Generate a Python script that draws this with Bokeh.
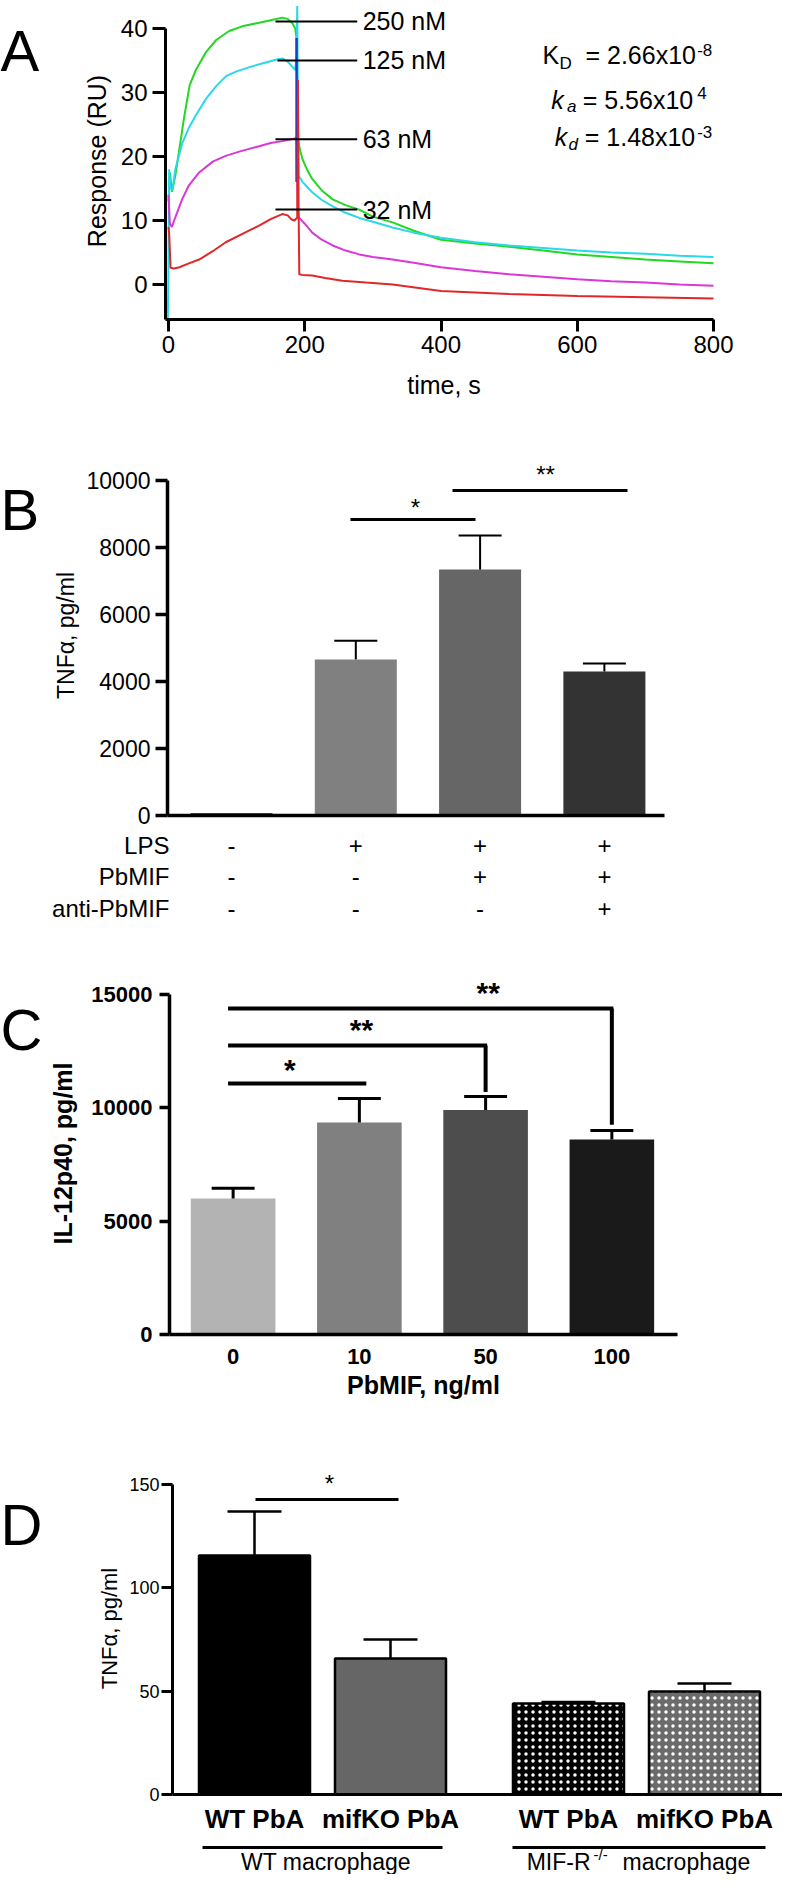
from bokeh.plotting import figure
from bokeh.layouts import column, row
from bokeh.models import Range1d, FixedTicker
from bokeh.core.properties import value
from bokeh.embed import file_html
from bokeh.resources import INLINE

FONT = "Liberation Sans"

# ---------------- Panel A data (SPR sensorgrams: time s, response RU) ----------------
t250 = [0, 2, 5, 10, 16, 22, 31, 40, 55, 70, 89, 110, 133, 150, 167, 175, 182, 186, 188, 189, 190, 193, 197, 204, 211, 225, 241, 260, 280, 300, 329, 360, 400, 450, 500, 550, 600, 650, 700, 750, 800]
r250 = [13, 17.5, 14.5, 17, 21.2, 25.5, 31.1, 33.5, 36.3, 38.2, 39.6, 40.4, 40.9, 41.3, 41.7, 41.5, 40.8, 40, 38.5, 30, 23, 21, 19.5, 17.8, 16.5, 14.7, 13.3, 12.4, 11.7, 10.6, 9.7, 8.4, 7.0, 6.4, 5.9, 5.3, 4.7, 4.3, 3.9, 3.6, 3.3]
t125 = [-1, 0, 1, 3, 6, 10, 20, 30, 40, 55, 70, 85, 100, 120, 140, 160, 168, 175, 182, 186, 188, 189, 190, 191, 197, 204, 211, 225, 241, 260, 280, 300, 329, 360, 400, 450, 500, 550, 600, 650, 700, 750, 800]
r125 = [-5.5, 3, 18, 15, 14.8, 18, 22, 24.5, 26.4, 29, 31, 32.6, 33.3, 34, 34.6, 35.2, 35.3, 34.8, 34, 33.5, 36, 43.5, 28, 17, 16, 15.2, 14.4, 13.2, 12.2, 11.2, 10.4, 9.8, 8.9, 8.1, 7.3, 6.6, 6.1, 5.7, 5.3, 5.0, 4.8, 4.5, 4.3]
t63 = [0, 2, 5, 10, 20, 30, 45, 65, 84, 105, 133, 150, 167, 180, 186, 188, 189, 190, 192, 200, 211, 225, 241, 260, 280, 300, 329, 360, 400, 450, 500, 550, 600, 650, 700, 750, 800]
r63 = [14, 9.5, 9, 10.5, 13.3, 15.5, 17.5, 19.2, 20.1, 20.8, 21.6, 22.1, 22.4, 22.7, 22.8, 23, 16, 10.8, 10.4, 9.5, 8.1, 7, 6.1, 5.3, 4.7, 4.3, 3.9, 3.4, 2.7, 2.1, 1.6, 1.2, 0.8, 0.5, 0.3, 0.0, -0.2]
t32 = [0, 1, 3, 8, 16, 30, 45, 65, 84, 110, 133, 150, 167, 175, 180, 185, 189, 190, 191, 192, 196, 211, 230, 255, 290, 329, 400, 500, 600, 700, 800]
r32 = [9, 8, 2.6, 2.5, 2.7, 3.3, 3.9, 5.2, 6.6, 8.0, 9.2, 10.2, 11.0, 10.8, 10.2, 10.0, 10.5, 32, 12, 1.6, 1.5, 1.4, 1.0, 0.6, 0.3, 0.0, -1.0, -1.5, -1.8, -2.0, -2.2]
t_inj = [188, 188]
r_inj = [38.5, 16]
conc_labels = ["250 nM", "125 nM", "63 nM", "32 nM"]
conc_levels = [41.1, 35.0, 22.7, 11.7]

# ---------------- Panel B data ----------------
b_pos = [0, 1, 2, 3]
b_tnf = [70, 4660, 7340, 4300]
b_sem = [0, 560, 1020, 240]
b_rows = ["LPS", "PbMIF", "anti-PbMIF"]
b_table = [["-", "+", "+", "+"],
           ["-", "-", "+", "+"],
           ["-", "-", "-", "+"]]

# ---------------- Panel C data ----------------
c_pos = [0, 1, 2, 3]
c_doses = ["0", "10", "50", "100"]
c_il12 = [6000, 9350, 9900, 8600]
c_sem = [450, 1060, 600, 400]

# ---------------- Panel D data ----------------
d_pos = [0, 136, 314, 450]
d_groups = ["WT PbA", "mifKO PbA", "WT PbA", "mifKO PbA"]
d_tnf = [115.6, 65.8, 44.0, 49.8]
d_sem = [21.3, 9.2, 0.7, 3.9]

panel_letters = ["A", "B", "C", "D"]


def base(p):
    p.outline_line_color = None
    p.grid.visible = False
    p.background_fill_color = "white"
    p.border_fill_color = "white"


def blank(width, height, xr, yr):
    p = figure(width=width, height=height, x_range=xr, y_range=yr,
               x_axis_location=None, y_axis_location=None, min_border=0,
               output_backend="svg", toolbar_location=None)
    base(p)
    return p


def style_axis(ax, lw, tick_out, size, fstyle="normal", standoff=5,
               label_size=None, label_style="normal", label_standoff=5):
    ax.axis_line_width = lw
    ax.axis_line_color = "black"
    ax.major_tick_line_width = lw
    ax.major_tick_line_color = "black" if tick_out > 0 else None
    ax.major_tick_out = tick_out
    ax.major_tick_in = 0
    ax.minor_tick_line_color = None
    ax.major_label_text_font = FONT
    ax.major_label_text_font_size = size
    ax.major_label_text_font_style = fstyle
    ax.major_label_text_color = "black"
    ax.major_label_standoff = standoff
    ax.axis_label_text_font = FONT
    ax.axis_label_text_font_size = label_size or size
    ax.axis_label_text_font_style = label_style
    ax.axis_label_text_color = "black"
    ax.axis_label_standoff = label_standoff


def txt(p, x, y, text, size, align="left", fstyle="normal", baseline="middle"):
    p.text(x=x if isinstance(x, list) else [x], y=y if isinstance(y, list) else [y],
           text=text if isinstance(text, list) else [text],
           text_font=value(FONT), text_font_size=size, text_align=align,
           text_baseline=baseline, text_font_style=fstyle, text_color="black")


# ======================= panel letters column (page x 8..54) =======================
pL = blank(46, 1874, Range1d(8, 54), Range1d(1882, 8))
txt(pL, [8, 8, 8, 8], [58, 517, 1037, 1532], panel_letters, "58px", baseline="alphabetic")

# ======================= Panel A =======================
pA = figure(width=736, height=447, x_range=Range1d(-4.4, 813.2), y_range=Range1d(-5.47, 44.06),
            min_border_left=119, min_border_right=60, min_border_top=2, min_border_bottom=128,
            output_backend="svg", toolbar_location=None)
base(pA)
pA.line(t250, r250, color="#22d822", line_width=2)
pA.line(t125, r125, color="#2ad8e8", line_width=2)
pA.line(t63, r63, color="#d838d8", line_width=2)
pA.line(t_inj, r_inj, color="#1a3cd0", line_width=2.5)
pA.line(t32, r32, color="#e02828", line_width=2)
pA.segment(x0=[157, 160, 157, 157], y0=conc_levels, x1=[277] * 4, y1=conc_levels,
           color="black", line_width=2)
txt(pA, [285] * 4, conc_levels, conc_labels, "25px")
# kinetic constants
txt(pA, 549, 35.9, "K", "25px")
txt(pA, 574, 34.5, "D", "17px")
txt(pA, 612, 35.9, "= 2.66x10", "25px")
txt(pA, 776, 36.6, "-8", "17px")
txt(pA, 562, 28.9, "k", "25px", fstyle="italic")
txt(pA, 585, 27.8, "a", "17px", fstyle="italic")
txt(pA, 608, 28.9, "= 5.56x10", "25px")
txt(pA, 776, 29.9, "4", "17px")
txt(pA, 567, 23.0, "k", "25px", fstyle="italic")
txt(pA, 587, 21.8, "d", "17px", fstyle="italic")
txt(pA, 611, 23.0, "= 1.48x10", "25px")
txt(pA, 776, 23.9, "-3", "17px")
pA.xaxis.ticker = FixedTicker(ticks=[0, 200, 400, 600, 800])
pA.yaxis.ticker = FixedTicker(ticks=[0, 10, 20, 30, 40])
pA.xaxis.bounds = (-4.4, 800)
pA.yaxis.bounds = (-5.47, 40)
pA.xaxis.axis_label = "time, s"
pA.yaxis.axis_label = "Response (RU)"
style_axis(pA.xaxis[0], 3, 12, "24px", standoff=4, label_size="25px", label_standoff=15)
style_axis(pA.yaxis[0], 3, 13, "24px", standoff=5, label_size="25px", label_standoff=7)

# ======================= Panel B =======================
pB = figure(width=736, height=384, x_range=Range1d(-0.515, 3.548), y_range=Range1d(0, 10746),
            min_border_left=121, min_border_right=110, min_border_top=8, min_border_bottom=16,
            output_backend="svg", toolbar_location=None)
base(pB)
pB.vbar(x=b_pos, top=b_tnf, width=0.66,
        fill_color=["#111111", "#808080", "#666666", "#333333"], line_color=None)
b_err_top = [t + s for t, s in zip(b_tnf, b_sem)]
pB.segment(x0=b_pos[1:], y0=b_tnf[1:], x1=b_pos[1:], y1=b_err_top[1:], color="black", line_width=2)
pB.segment(x0=[x - 0.173 for x in b_pos[1:]], y0=b_err_top[1:], x1=[x + 0.173 for x in b_pos[1:]],
           y1=b_err_top[1:], color="black", line_width=2)
pB.segment(x0=[0.957, 1.778], y0=[8836, 9701], x1=[1.963, 3.186], y1=[8836, 9701],
           color="black", line_width=3)
txt(pB, 1.48, 9194, "*", "24px", align="center")
txt(pB, 2.526, 10179, "**", "24px", align="center")
pB.xaxis.ticker = FixedTicker(ticks=[])
pB.xaxis.bounds = (-0.515, 3.48)
pB.yaxis.ticker = FixedTicker(ticks=[0, 2000, 4000, 6000, 8000, 10000])
pB.yaxis.bounds = (0, 10000)
pB.yaxis.axis_label = "TNFα, pg/ml"
style_axis(pB.xaxis[0], 3.5, 0, "23px", standoff=0)
style_axis(pB.yaxis[0], 3.5, 12, "23px", standoff=5, label_size="23px", label_standoff=5)

# treatment table under panel B (same x mapping as pB, y in page pixels)
tabB = blank(736, 121, Range1d((54 - 239) / 124.3, (790 - 239) / 124.3), Range1d(960, 839))
row_y = [853, 884, 916]
txt(tabB, [-0.499] * 3, row_y, b_rows, "24px", align="right")
for r in range(3):
    txt(tabB, b_pos, [row_y[r]] * 4, b_table[r], "24px", align="center")

# ======================= Panel C =======================
pC = figure(width=736, height=490, x_range=Range1d(-0.504, 3.52), y_range=Range1d(0, 15968),
            min_border_left=120, min_border_right=105, min_border_top=20, min_border_bottom=108,
            output_backend="svg", toolbar_location=None)
base(pC)
pC.vbar(x=c_pos, top=c_il12, width=0.67,
        fill_color=["#b3b3b3", "#808080", "#4d4d4d", "#1a1a1a"], line_color=None)
c_err_top = [t + s for t, s in zip(c_il12, c_sem)]
pC.segment(x0=c_pos, y0=c_il12, x1=c_pos, y1=c_err_top, color="black", line_width=3)
pC.segment(x0=[x - 0.17 for x in c_pos], y0=c_err_top, x1=[x + 0.17 for x in c_pos],
           y1=c_err_top, color="black", line_width=3)
pC.segment(x0=[-0.04, -0.04, -0.04], y0=[11072, 12748, 14380], x1=[1.055, 2.012, 3.012],
           y1=[11072, 12748, 14380], color="black", line_width=4)
pC.segment(x0=[2.0, 3.0], y0=[12748, 14380], x1=[2.0, 3.0], y1=[10700, 9250],
           color="black", line_width=4)
txt(pC, 0.449, 11690, "*", "30px", align="center", fstyle="bold")
txt(pC, 1.016, 13455, "**", "30px", align="center", fstyle="bold")
txt(pC, 2.02, 15086, "**", "30px", align="center", fstyle="bold")
pC.xaxis.ticker = FixedTicker(ticks=c_pos)
pC.xaxis.major_label_overrides = {i: d for i, d in zip(c_pos, c_doses)}
pC.xaxis.bounds = (-0.504, 3.52)
pC.yaxis.ticker = FixedTicker(ticks=[0, 5000, 10000, 15000])
pC.yaxis.bounds = (0, 15000)
pC.xaxis.axis_label = "PbMIF, ng/ml"
pC.yaxis.axis_label = "IL-12p40, pg/ml"
style_axis(pC.xaxis[0], 3.5, 0, "22px", fstyle="bold", standoff=14,
           label_size="25px", label_style="bold", label_standoff=4)
style_axis(pC.yaxis[0], 3.5, 10, "22px", fstyle="bold", standoff=7,
           label_size="25px", label_style="bold", label_standoff=11)

# ======================= Panel D =======================
pD = figure(width=736, height=396, x_range=Range1d(-82, 528), y_range=Range1d(0, 160.6),
            min_border_left=126, min_border_right=0, min_border_top=20, min_border_bottom=44,
            output_backend="svg", toolbar_location=None)
base(pD)
pD.vbar(x=d_pos[:2], top=d_tnf[:2], width=111, fill_color=["black", "#666666"],
        line_color="black", line_width=2.5)
pD.vbar(x=d_pos[2:], top=d_tnf[2:], width=111, fill_color=["black", "#6b6b6b"],
        line_color="black", line_width=2.5, hatch_pattern="dot", hatch_color="white",
        hatch_scale=7, hatch_weight=1.5)
d_err_top = [t + s for t, s in zip(d_tnf, d_sem)]
pD.segment(x0=d_pos, y0=d_tnf, x1=d_pos, y1=d_err_top, color="black", line_width=2.5)
pD.segment(x0=[x - 27 for x in d_pos], y0=d_err_top, x1=[x + 27 for x in d_pos],
           y1=d_err_top, color="black", line_width=2.5)
pD.segment(x0=[1], y0=[142.7], x1=[144], y1=[142.7], color="black", line_width=3)
txt(pD, 75, 150.5, "*", "24px", align="center")
pD.xaxis.ticker = FixedTicker(ticks=d_pos)
pD.xaxis.major_label_overrides = {x: g for x, g in zip(d_pos, d_groups)}
pD.yaxis.ticker = FixedTicker(ticks=[0, 50, 100, 150])
pD.yaxis.bounds = (0, 150)
pD.yaxis.axis_label = "TNFα, pg/ml"
style_axis(pD.xaxis[0], 3, 0, "26px", fstyle="bold", standoff=9)
style_axis(pD.yaxis[0], 3, 11, "18px", standoff=2, label_size="22px", label_standoff=4)

# macrophage group brackets under panel D (same x mapping as pD, y in page pixels)
tabD = blank(736, 36, Range1d(54 - 262, 790 - 262), Range1d(1882, 1846))
tabD.segment(x0=[-52, 258], y0=[1855, 1855], x1=[188, 511], y1=[1855, 1855],
             color="black", line_width=3)
txt(tabD, 71.5, 1869, "WT macrophage", "23px", align="center")
txt(tabD, 336, 1869, "MIF-R", "23px", align="right")
txt(tabD, 339, 1862, "-/-", "15px")
txt(tabD, 368, 1869, "macrophage", "23px")

main = column(column(pA), column(pB), column(tabB), column(pC), column(pD), column(tabD))
layout = row(column(pL), main)
open("out.html", "w").write(file_html(layout, INLINE))
